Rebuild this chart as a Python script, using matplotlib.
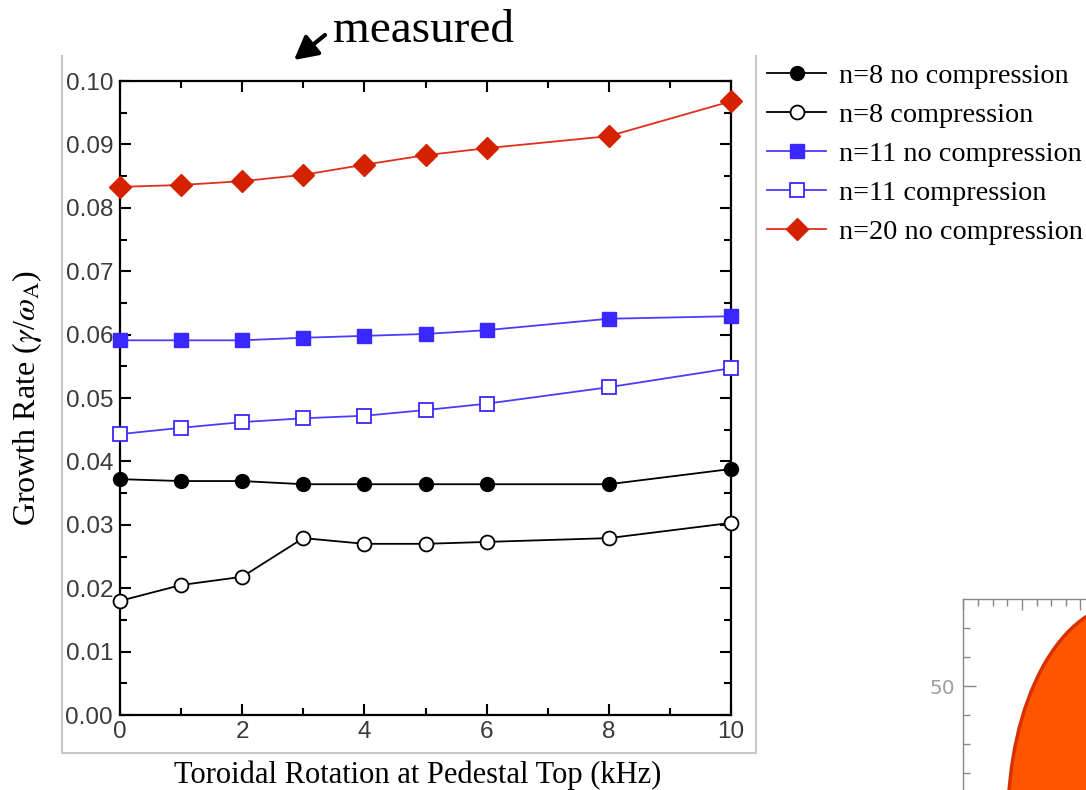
import matplotlib
matplotlib.use("Agg")
import matplotlib.pyplot as plt
from matplotlib.lines import Line2D
from matplotlib.patches import Ellipse
from matplotlib.ticker import MultipleLocator, FixedLocator, NullFormatter, FixedFormatter
import numpy as np

# ---------------- data ----------------
rotation_khz = [0, 1, 2, 3, 4, 5, 6, 8, 10]
n8_no_comp = [0.0372, 0.0369, 0.0369, 0.0364, 0.0364, 0.0364, 0.0364, 0.0364, 0.0388]
n8_comp = [0.0180, 0.0205, 0.0218, 0.0279, 0.0270, 0.0270, 0.0273, 0.0279, 0.0303]
n11_no_comp = [0.0591, 0.0591, 0.0591, 0.0595, 0.0598, 0.0601, 0.0607, 0.0625, 0.0629]
n11_comp = [0.0443, 0.0453, 0.0462, 0.0468, 0.0472, 0.0481, 0.0491, 0.0517, 0.0547]
n20_no_comp = [0.0833, 0.0836, 0.0842, 0.0852, 0.0868, 0.0883, 0.0894, 0.0913, 0.0968]

labels = ["n=8 no compression", "n=8 compression", "n=11 no compression",
          "n=11 compression", "n=20 no compression"]
x_ticks = [0, 2, 4, 6, 8, 10]
y_ticks = [0.00, 0.01, 0.02, 0.03, 0.04, 0.05, 0.06, 0.07, 0.08, 0.09, 0.10]

W, H = 1086, 790
plt.rcParams["mathtext.fontset"] = "stix"
fig = plt.figure(figsize=(W / 100, H / 100), dpi=100)

def fx(px):
    return px / W

def fy(py):
    return 1 - py / H

# gray frame around the plot panel
frame_kw = dict(color="#c8c8c8", lw=1.5, transform=fig.transFigure)
fig.add_artist(Line2D([fx(62), fx(62), fx(756), fx(756)],
                      [fy(56), fy(753), fy(753), fy(56)], **frame_kw))

ax = fig.add_axes([fx(120), fy(715), fx(731) - fx(120), fy(81) - fy(715)])

black = "#000000"
blue_line = "#4a3cff"
blue_mark = "#3a28ff"
red_line = "#e0301a"
red_mark = "#d42200"

lw = 1.3
common = dict(lw=lw, zorder=3, clip_on=False)
ax.plot(rotation_khz, n8_no_comp, color=black, marker="o", ms=10,
        mfc=black, mec=black, label=labels[0], **common)
ax.plot(rotation_khz, n8_comp, color=black, marker="o", ms=10,
        mfc="white", mec=black, mew=1.3, label=labels[1], **common)
ax.plot(rotation_khz, n11_no_comp, color=blue_line, marker="s", ms=9.5,
        mfc=blue_mark, mec=blue_mark, label=labels[2], **common)
ax.plot(rotation_khz, n11_comp, color=blue_line, marker="s", ms=9.5,
        mfc="white", mec=blue_mark, mew=1.3, label=labels[3], **common)
ax.plot(rotation_khz, n20_no_comp, color=red_line, marker="D", ms=11.5,
        mfc=red_mark, mec=red_mark, label=labels[4], **common)

ax.set_xlim(0, 10)
ax.set_ylim(0, 0.10)
ax.set_xticks(x_ticks)
ax.set_yticks(y_ticks)
ax.set_yticklabels([f"{v:.2f}" for v in y_ticks])
ax.xaxis.set_minor_locator(MultipleLocator(1))
ax.yaxis.set_minor_locator(MultipleLocator(0.005))
ax.tick_params(which="both", direction="in", top=True, right=True, width=1.5,
               color="black")
ax.tick_params(which="major", length=8, labelsize=17.5, labelcolor="#3a3a3a",
               labelfontfamily="Liberation Sans")
ax.tick_params(axis="y", which="major", pad=5)
ax.tick_params(axis="x", which="major", pad=4)
ax.tick_params(which="minor", length=5)
for s in ax.spines.values():
    s.set_linewidth(1.6)

ax.set_xlabel("Toroidal Rotation at Pedestal Top (kHz)", fontsize=22,
              family="Liberation Serif")
ax.xaxis.set_label_coords(0.488, -0.072)
ax.set_ylabel(r"Growth Rate ($\gamma$/$\omega_{\mathrm{A}}$)", fontsize=23,
              family="Liberation Serif")
ax.yaxis.set_label_coords(-0.124, 0.5)

# legend
fig.legend(loc="upper left", bbox_to_anchor=(fx(767), fy(63)), frameon=False,
           prop={"family": "Liberation Serif", "size": 20.3}, handlelength=2.1,
           handletextpad=0.45, labelspacing=0.47, borderaxespad=0,
           borderpad=0)

# annotation
fig.text(fx(333), fy(31), "measured", fontsize=34, family="Liberation Serif",
         ha="left", va="center")
ax.annotate("", xy=(fx(294), fy(60)), xycoords="figure fraction",
            xytext=(fx(325), fy(35)), textcoords="figure fraction",
            arrowprops=dict(arrowstyle="-|>,head_length=1.4,head_width=0.75",
                            color="black", lw=3.0, shrinkA=0, shrinkB=0))

# partial neighbouring panel at the lower right
ins = fig.add_axes([fx(963), fy(880), fx(1400) - fx(963), fy(599) - fy(880)])
ins.set_xlim(963, 1400)
ins.set_ylim(790 - 880, 790 - 599)
ins.add_patch(Ellipse((1126, -30), 236, 432, facecolor="#ff5500",
                      edgecolor="#d83000", lw=2.5))
ins.xaxis.tick_top()
ins.xaxis.set_major_locator(FixedLocator([963, 1022, 1080]))
ins.xaxis.set_minor_locator(FixedLocator([978, 993, 1007, 1037, 1051, 1066]))
ins.yaxis.set_major_locator(FixedLocator([104]))
ins.yaxis.set_major_formatter(FixedFormatter(["50"]))
ins.yaxis.set_minor_locator(FixedLocator([162, 133, 75, 46, 17]))
ins.xaxis.set_major_formatter(NullFormatter())
ins.tick_params(which="both", direction="in", color="#888888", width=1)
ins.tick_params(axis="y", which="major", length=9, labelsize=14.5,
                labelcolor="#a0a0a0", pad=6)
ins.tick_params(axis="y", which="minor", length=5)
ins.tick_params(axis="x", which="major", length=8)
ins.tick_params(axis="x", which="minor", length=5)
for name, s in ins.spines.items():
    s.set_color("#888888")
    s.set_linewidth(1)

fig.savefig("out.png", dpi=100)
